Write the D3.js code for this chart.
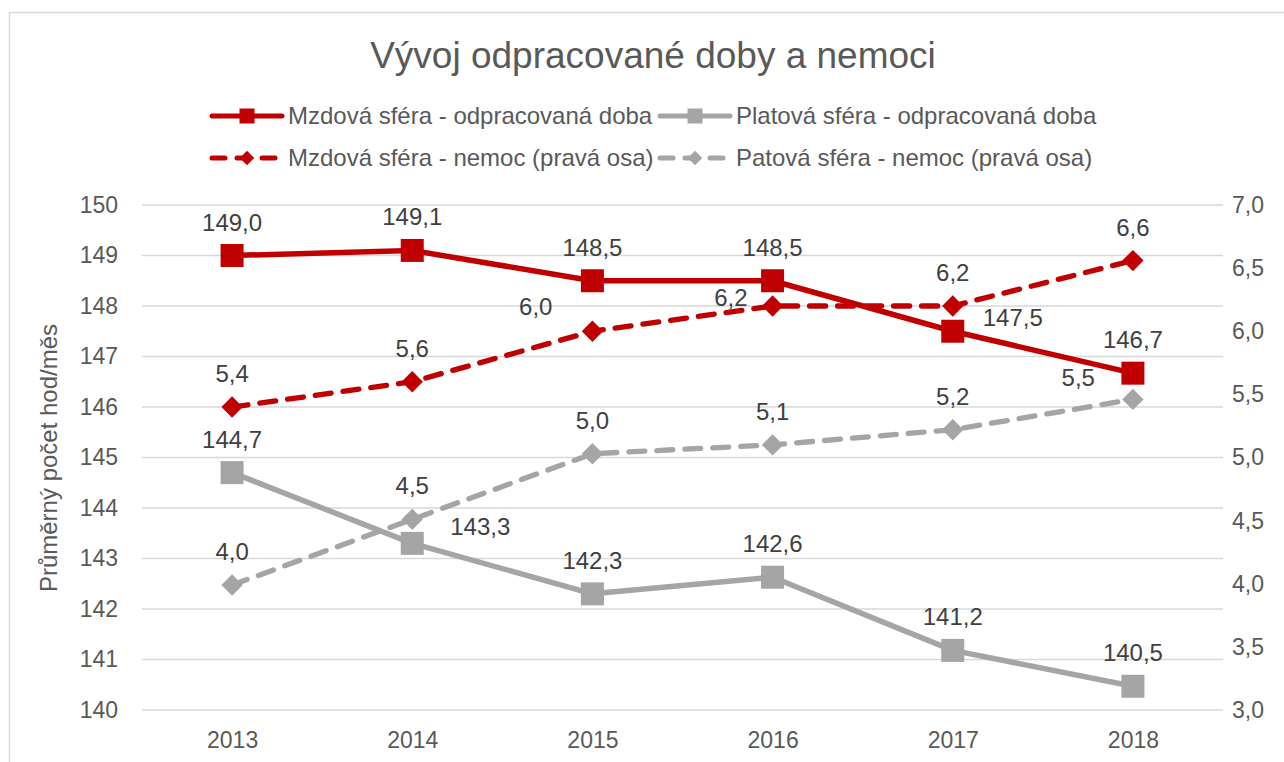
<!DOCTYPE html>
<html><head><meta charset="utf-8">
<script src="https://cdn.jsdelivr.net/npm/d3@7"></script>
<style>body{margin:0;background:#fff}svg{display:block;font-family:Arial,"Liberation Sans",sans-serif}</style>
</head><body><svg id="c" width="1284" height="762"></svg>
<script>
const years = ["2013","2014","2015","2016","2017","2018"];
const mzdaDoba = [149.0,149.1,148.5,148.5,147.5,146.67];
const platDoba = [144.7,143.3,142.3,142.63,141.18,140.47];
const mzdaNemoc = [5.4,5.6,6.0,6.2,6.2,6.56];
const platNemoc = [3.99,4.51,5.03,5.1,5.22,5.46];
const leftTicks = [140,141,142,143,144,145,146,147,148,149,150];
const rightTicks = [3.0,3.5,4.0,4.5,5.0,5.5,6.0,6.5,7.0];
const seriesNames = ["Mzdová sféra - odpracovaná doba","Platová sféra - odpracovaná doba","Mzdová sféra - nemoc (pravá osa)","Patová sféra - nemoc (pravá osa)"];
// label placement per point: [dx, baseline dy, anchor]
const A = [0,-25,"middle"];
const labelPos = [
  [A,A,A,A,[30,-5,"start"],A],
  [A,[38,-8,"start"],A,A,A,A],
  [A,A,[-40,-16,"end"],[-25,0,"end"],A,A],
  [A,A,A,A,A,[-38,-13,"end"]]
];

const svg = d3.select("#c");
const RED="#C00000", GRAY="#A5A5A5", TXT="#595959", LBL="#404040";
const FONT = "Arial,'Liberation Sans',sans-serif";
svg.append("rect").attr("x",9.5).attr("y",12.5).attr("width",1400).attr("height",900).attr("fill","none").attr("stroke","#D9D9D9").attr("stroke-width",1.5);

const L=142, R=1223, T=205, B=710;
const x = d3.scalePoint().domain(years).range([L,R]).padding(0.5);
const yL = d3.scaleLinear().domain([140,150]).range([B,T]);
const yR = d3.scaleLinear().domain([3,7]).range([B,T]);

svg.append("g").selectAll("line").data(leftTicks).join("line")
  .attr("x1",L).attr("x2",R).attr("y1",d=>yL(d)).attr("y2",d=>yL(d))
  .attr("stroke","#D9D9D9").attr("stroke-width",1.3);

const fmt = d => d.toFixed(1).replace(".",",");
const gl = svg.append("g").attr("transform",`translate(${L-24},0)`)
  .call(d3.axisLeft(yL).tickValues(leftTicks).tickSize(0).tickPadding(0).tickFormat(d3.format("d")));
const gr = svg.append("g").attr("transform",`translate(${R+9},0)`)
  .call(d3.axisRight(yR).tickValues(rightTicks).tickSize(0).tickPadding(0).tickFormat(fmt));
const gx = svg.append("g").attr("transform",`translate(0,${B+22})`)
  .call(d3.axisBottom(x).tickSize(0).tickPadding(0));
[gl,gr,gx].forEach(g=>{g.select(".domain").remove();
  g.selectAll("text").attr("fill",TXT).style("font-size","23px").style("font-family",FONT);});

svg.append("text").attr("x",653).attr("y",68).attr("text-anchor","middle").attr("fill",TXT)
  .style("font-size","37px").text("Vývoj odpracované doby a nemoci");
svg.append("text").attr("transform","translate(57,458) rotate(-90)").attr("text-anchor","middle")
  .attr("fill",TXT).style("font-size","24px").text("Průměrný počet hod/měs");

const series = [
  {vals:mzdaDoba, y:yL, color:RED, dash:null, shape:"sq"},
  {vals:platDoba, y:yL, color:GRAY, dash:null, shape:"sq"},
  {vals:mzdaNemoc, y:yR, color:RED, dash:"16,12", shape:"di"},
  {vals:platNemoc, y:yR, color:GRAY, dash:"16,12", shape:"di"}
];
const sqSym = d3.symbol().type(d3.symbolSquare).size(23*23);
const diSym = d3.symbol().type(d3.symbolDiamond2).size(290);

series.forEach((s,i)=>{
  const line = d3.line().x((d,j)=>x(years[j])).y(d=>s.y(d));
  svg.append("path").datum(s.vals).attr("d",line).attr("fill","none")
    .attr("stroke",s.color).attr("stroke-width",s.dash?5.3:5.5)
    .attr("stroke-linecap",s.dash?"round":"butt").attr("stroke-linejoin","round")
    .attr("stroke-dasharray",s.dash);
  svg.append("g").selectAll("path").data(s.vals).join("path")
    .attr("transform",(d,j)=>`translate(${x(years[j])},${s.y(d)})`)
    .attr("d",s.shape==="sq"?sqSym:diSym).attr("fill",s.color);
});

series.forEach((s,i)=>{
  svg.append("g").selectAll("text").data(s.vals).join("text")
    .attr("x",(d,j)=>x(years[j])+labelPos[i][j][0])
    .attr("y",(d,j)=>s.y(d)+labelPos[i][j][1])
    .attr("text-anchor",(d,j)=>labelPos[i][j][2])
    .attr("fill",LBL).style("font-size","24px").text(d=>fmt(d));
});

const legItems = [
  {x:212,y:116,s:series[0]},{x:660,y:116,s:series[1]},
  {x:212,y:158,s:series[2]},{x:660,y:158,s:series[3]}
];
legItems.forEach((it,i)=>{
  const g=svg.append("g");
  g.append("line").attr("x1",it.x).attr("x2",it.x+70).attr("y1",it.y).attr("y2",it.y)
    .attr("stroke",it.s.color).attr("stroke-width",5).attr("stroke-linecap","round")
    .attr("stroke-dasharray",it.s.dash?"13,12":null);
  g.append("path").attr("transform",`translate(${it.x+35},${it.y})`)
    .attr("d",it.s.shape==="sq"?d3.symbol().type(d3.symbolSquare).size(225):d3.symbol().type(d3.symbolDiamond2).size(135))
    .attr("fill",it.s.color);
  g.append("text").attr("x",it.x+76).attr("y",it.y+8).attr("fill",TXT).style("font-size","24px").text(seriesNames[i]);
});
</script></body></html>
